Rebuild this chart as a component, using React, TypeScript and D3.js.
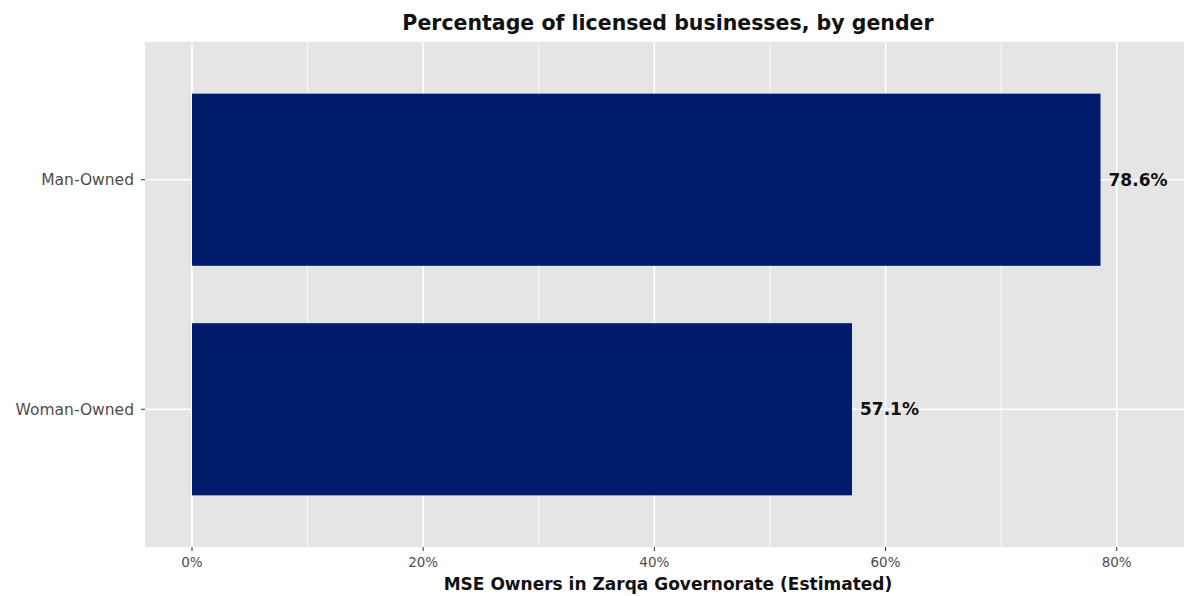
import React from "react";
import * as d3 from "d3";

const categories = ["Man-Owned", "Woman-Owned"];
const values = [78.6, 57.1];
const valueLabels = ["78.6%", "57.1%"];
const xTicks = [0, 20, 40, 60, 80];
const xMinor = [10, 30, 50, 70];

const W = 1190;
const H = 596;
const FONT = "'DejaVu Sans', Verdana, sans-serif";

export default function App() {
  const left = 145, right = 1184, top = 42, bottom = 547;
  const x = d3.scaleLinear().domain([0, 80]).range([192, 1116.7]);
  const unit = (bottom - top) / 2.2;
  const y = d3
    .scalePoint<string>()
    .domain(categories)
    .range([top + 0.6 * unit, bottom - 0.6 * unit]);
  const barH = unit * 0.75;

  return (
    <svg width={W} height={H} style={{ position: "absolute", left: 0, top: 0 }}>
      <rect x={0} y={0} width={W} height={H} fill="#fff" />
      <rect x={left} y={top} width={right - left} height={bottom - top} fill="#e5e5e5" />
      {xMinor.map((t) => (
        <line key={"m" + t} x1={x(t)} x2={x(t)} y1={top} y2={bottom} stroke="#fff" strokeWidth={0.8} />
      ))}
      {xTicks.map((t) => (
        <line key={"g" + t} x1={x(t)} x2={x(t)} y1={top} y2={bottom} stroke="#fff" strokeWidth={1.6} />
      ))}
      {categories.map((c) => (
        <line key={"h" + c} x1={left} x2={right} y1={y(c)!} y2={y(c)!} stroke="#fff" strokeWidth={1.6} />
      ))}
      {categories.map((c, i) => (
        <rect
          key={"b" + c}
          x={x(0)}
          y={y(c)! - barH / 2}
          width={x(values[i]) - x(0)}
          height={barH}
          fill="#001c6b"
        />
      ))}
      {categories.map((c, i) => (
        <text
          key={"l" + c}
          x={x(values[i]) + 8}
          y={y(c)!}
          dy="0.36em"
          fontFamily={FONT}
          fontWeight={700}
          fontSize={17}
          fill="#111"
        >
          {valueLabels[i]}
        </text>
      ))}
      {categories.map((c) => (
        <g key={"yt" + c}>
          <line x1={left - 4} x2={left} y1={y(c)!} y2={y(c)!} stroke="#333" strokeWidth={1} />
          <text
            x={left - 11}
            y={y(c)!}
            dy="0.36em"
            textAnchor="end"
            fontFamily={FONT}
            fontSize={15.5}
            fill="#4d4d4d"
          >
            {c}
          </text>
        </g>
      ))}
      {xTicks.map((t) => (
        <g key={"xt" + t}>
          <line x1={x(t)} x2={x(t)} y1={bottom} y2={bottom + 4} stroke="#333" strokeWidth={1} />
          <text
            x={x(t)}
            y={bottom + 20}
            textAnchor="middle"
            fontFamily={FONT}
            fontSize={13.5}
            fill="#4d4d4d"
          >
            {t + "%"}
          </text>
        </g>
      ))}
      <text
        x={668}
        y={590}
        textAnchor="middle"
        fontFamily={FONT}
        fontSize={17}
        fontWeight={700}
        fill="#111"
      >
        MSE Owners in Zarqa Governorate (Estimated)
      </text>
      <text
        x={668}
        y={30}
        textAnchor="middle"
        fontFamily={FONT}
        fontSize={20.5}
        fontWeight={700}
        fill="#111"
      >
        Percentage of licensed businesses, by gender
      </text>
    </svg>
  );
}
